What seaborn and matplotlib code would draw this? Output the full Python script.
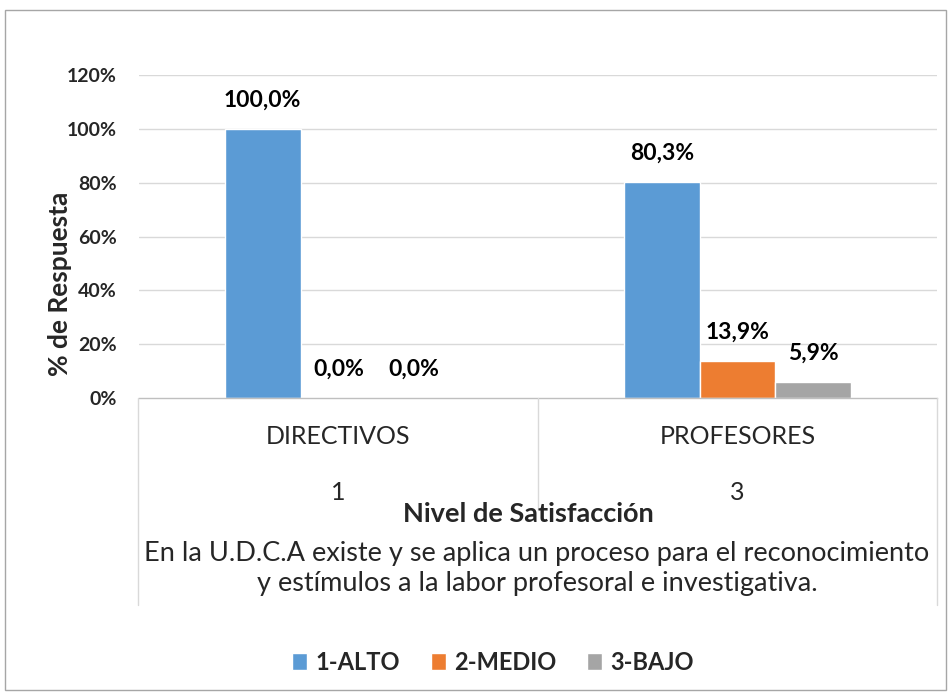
import matplotlib
matplotlib.use("Agg")
import matplotlib.pyplot as plt
import seaborn as sns
import pandas as pd
from matplotlib.lines import Line2D
from matplotlib.patches import Rectangle

groups = ["DIRECTIVOS", "PROFESORES"]
group_codes = ["1", "3"]
levels = ["1-ALTO", "2-MEDIO", "3-BAJO"]
alto = [1.00, 0.803]
medio = [0.00, 0.139]
bajo = [0.00, 0.059]
colors = ["#5B9BD5", "#ED7D31", "#A5A5A5"]
yticks = [0, 0.2, 0.4, 0.6, 0.8, 1.0, 1.2]
ytick_labels = ["0%", "20%", "40%", "60%", "80%", "100%", "120%"]

rows = []
for lvl, vals in zip(levels, [alto, medio, bajo]):
    for g, v in zip(groups, vals):
        rows.append({"grupo": g, "nivel": lvl, "valor": v})
df = pd.DataFrame(rows)

sns.set_theme(style="white")
plt.rcParams['font.family'] = ['Lato', 'DejaVu Sans']

W, H = 951, 696
fig = plt.figure(figsize=(W / 100, H / 100), dpi=100)
fig.patch.set_facecolor("white")

def fx(px):
    return px / W

def fy(py):
    return 1 - py / H

x0, x1, ytop, ybot = 139, 937, 75, 398
ax = fig.add_axes([fx(x0), fy(ybot), fx(x1) - fx(x0), fy(ytop) - fy(ybot)])

sns.barplot(data=df, x="grupo", y="valor", hue="nivel", order=groups,
            hue_order=levels, palette=colors, width=0.57, saturation=1,
            ax=ax, legend=True)

ax.set_ylim(0, 1.2)
ax.set_xlim(-0.5, 1.5)
ax.set_yticks(yticks)
ax.set_yticklabels(ytick_labels, fontsize=14, fontweight="bold")
ax.tick_params(axis="y", length=0, pad=16)
ax.set_xticks([])
ax.set_xlabel("")
ax.set_ylabel("")
for s in ["top", "right", "left"]:
    ax.spines[s].set_visible(False)
ax.spines["bottom"].set_color("#BFBFBF")
ax.spines["bottom"].set_linewidth(1)
for t in yticks[1:]:
    ax.axhline(t, color="#D9D9D9", lw=1, zorder=0)
ax.set_axisbelow(True)

# value labels
for cont in ax.containers:
    labels = [f"{b.get_height()*100:.1f}%".replace(".", ",") for b in cont]
    ax.bar_label(cont, labels=labels, padding=13, fontsize=16.5, fontweight="bold",
                 color="black")

leg = ax.get_legend()
handles = leg.legend_handles
leg.remove()
fig.legend(handles, levels, loc="center", bbox_to_anchor=(fx(493), fy(662)),
           ncol=3, frameon=False, prop={"family": "Lato", "weight": "bold", "size": 17},
           handlelength=0.65, handleheight=0.75, handletextpad=0.35, columnspacing=1.3)

# category table lines
line_c = "#D9D9D9"
for (xa, ya, xb, yb) in [(138, 398, 138, 605), (937, 398, 937, 605), (538, 398, 538, 510)]:
    fig.add_artist(Line2D([fx(xa), fx(xb)], [fy(ya), fy(yb)], color=line_c, lw=1))

for i, (g, c) in enumerate(zip(groups, group_codes)):
    xc = ax.transData.transform((i, 0))[0] / W
    fig.text(xc, fy(437), g, ha="center", va="center", fontsize=18)
    fig.text(xc, fy(493), c, ha="center", va="center", fontsize=18)

fig.text(fx(528), fy(514), "Nivel de Satisfacción", ha="center", va="center",
         fontsize=19.5, fontweight="bold")
fig.text(fx(537), fy(554), "En la U.D.C.A existe y se aplica un proceso para el reconocimiento",
         ha="center", va="center", fontsize=19.5)
fig.text(fx(537), fy(584), "y estímulos a la labor profesoral e investigativa.",
         ha="center", va="center", fontsize=19.5)

fig.text(fx(60), fy(284), "% de Respuesta", ha="center", va="center", rotation=90,
         fontsize=19, fontweight="bold")

fig.add_artist(Rectangle((fx(5), fy(690)), fx(946) - fx(5), fy(10) - fy(690),
                         fill=False, edgecolor="#A6A6A6", lw=1, transform=fig.transFigure))

fig.savefig("out.png", dpi=100)
